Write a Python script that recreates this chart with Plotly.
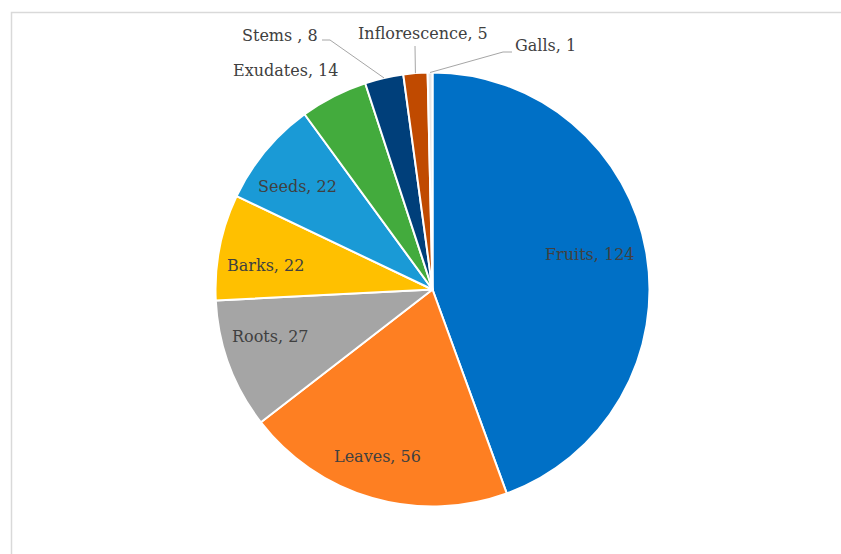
import math
import plotly.graph_objects as go

# ---- data ----
categories = ["Fruits", "Leaves", "Roots", "Barks", "Seeds", "Exudates", "Stems ", "Inflorescence", "Galls"]
values = [124, 56, 27, 22, 22, 14, 8, 5, 1]
colors = ["#0070c6", "#fe7f22", "#a5a5a5", "#ffc000", "#1a9ad6", "#43ab3d", "#003f7a", "#c04a00", "#e6e6e6"]

# ---- layout geometry (pixels) ----
W, H = 841, 554
CX, CY, R = 432.5, 289.5, 217.0
FONT = dict(family="DejaVu Serif", size=16, color="#404040")


def fx(x):
    return x / W


def fy(y):
    return 1 - y / H


total = sum(values)
mids = []
cum = 0
for v in values:
    mids.append((cum + v / 2) / total * 360.0)
    cum += v


def pt(angle, rfrac):
    a = math.radians(angle)
    return CX + R * rfrac * math.sin(a), CY - R * rfrac * math.cos(a)


fig = go.Figure(go.Pie(
    labels=categories,
    values=values,
    sort=False,
    direction="clockwise",
    rotation=0,
    marker=dict(colors=colors, line=dict(color="white", width=2)),
    textinfo="none",
    hoverinfo="label+value",
    showlegend=False,
    domain=dict(x=[fx(CX - R), fx(CX + R)], y=[fy(CY + R), fy(CY - R)]),
))

annotations = []
shapes = []

# inside labels: (radial fraction, angular nudge in degrees)
inside_pos = {0: (0.742, -2.4), 1: (0.81, 2.2), 2: (0.78, 4.2), 3: (0.78, -3.0), 4: (0.785, -2.3)}
for i, (f, nudge) in inside_pos.items():
    x, y = pt(mids[i] + nudge, f)
    annotations.append(dict(x=fx(x), y=fy(y), xref="paper", yref="paper",
                            text=f"{categories[i]}, {values[i]}", showarrow=False,
                            font=FONT, xanchor="center", yanchor="middle"))

# outside labels: text centre and elbow points for leader lines (pixels)
outside = {
    5: dict(text=(285, 70), elbow=[]),
    6: dict(text=(280, 35), elbow=[(322, 40), (330, 40)]),
    7: dict(text=(423, 34), elbow=[(415, 46)]),
    8: dict(text=(545, 46), elbow=[(512, 52), (503, 52)]),
}
for i, o in outside.items():
    tx, ty = o["text"]
    annotations.append(dict(x=fx(tx), y=fy(ty), xref="paper", yref="paper",
                            text=f"{categories[i]}, {values[i]}", showarrow=False,
                            font=FONT, xanchor="center", yanchor="middle"))
    if o["elbow"]:
        pts = o["elbow"] + [pt(mids[i], 1.0)]
        path = "M " + " L ".join(f"{fx(x)},{fy(y)}" for x, y in pts)
        shapes.append(dict(type="path", xref="paper", yref="paper", path=path,
                           line=dict(color="#a6a6a6", width=1)))

# chart frame
shapes.append(dict(type="rect", xref="paper", yref="paper",
                   x0=fx(11.5), x1=fx(860), y0=fy(12.5), y1=fy(580),
                   line=dict(color="#d9d9d9", width=1.5), fillcolor="rgba(0,0,0,0)", layer="below"))

fig.update_layout(
    width=W, height=H,
    margin=dict(l=0, r=0, t=0, b=0),
    paper_bgcolor="white",
    plot_bgcolor="white",
    annotations=annotations,
    shapes=shapes,
)

fig.write_html("out.html")
